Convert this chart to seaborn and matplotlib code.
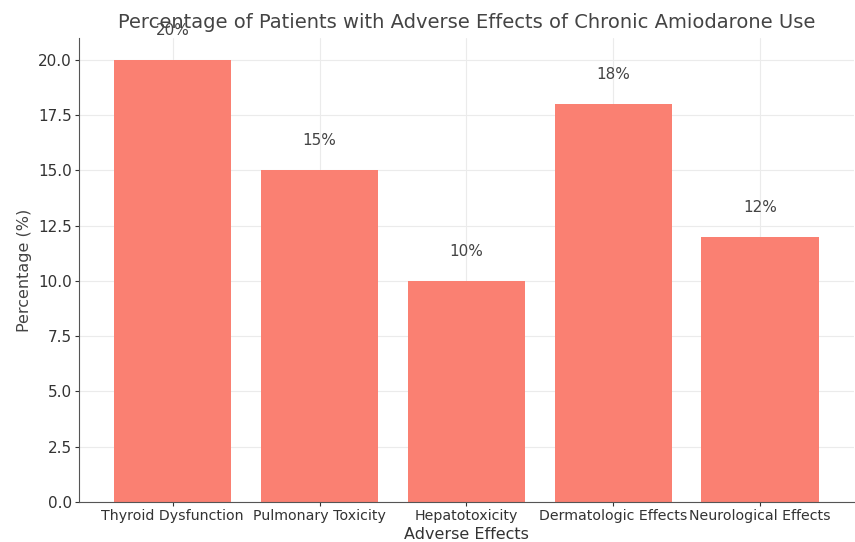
import numpy as np
import pandas as pd
import seaborn as sns
import matplotlib.pyplot as plt

effects = ["Thyroid Dysfunction", "Pulmonary Toxicity", "Hepatotoxicity",
           "Dermatologic Effects", "Neurological Effects"]
percentages = [20, 15, 10, 18, 12]

sns.set_style("whitegrid", {"grid.color": "#ebebeb", "axes.edgecolor": "#333333"})
plt.rcParams["font.family"] = ["DejaVu Sans"]

fig = plt.figure(figsize=(8.55, 5.42), dpi=100)
ax = fig.add_axes([0.092, 0.074, 0.907, 0.856])

df = pd.DataFrame({"effect": effects, "pct": percentages})
sns.barplot(data=df, x="effect", y="pct", color="salmon", saturation=1,
            width=0.8, ax=ax, zorder=2, linewidth=0)
ax.set_xlim(-0.64, 4.64)
ax.set_ylim(0, 21)

for i, v in enumerate(percentages):
    ax.text(i, v + 1, f"{v}%", ha="center", va="bottom", fontsize=11, color="#444444")

ax.set_title("Percentage of Patients with Adverse Effects of Chronic Amiodarone Use",
             fontsize=14, color="#444444", pad=7)
ax.set_xlabel("Adverse Effects", fontsize=11.5, color="#333333", labelpad=3)
ax.set_ylabel("Percentage (%)", fontsize=11.5, color="#444444")
ax.tick_params(axis="x", labelsize=10.2, colors="#333333", length=3, pad=2)
ax.tick_params(axis="y", labelsize=11, colors="#333333", length=3, pad=2)
ax.tick_params(axis="both", which="both", bottom=True, left=True)
for side in ["top", "right"]:
    ax.spines[side].set_visible(False)
for side in ["left", "bottom"]:
    ax.spines[side].set_color("#555555")
ax.grid(True, zorder=0)
ax.set_axisbelow(True)

fig.savefig("out.png", dpi=100)
